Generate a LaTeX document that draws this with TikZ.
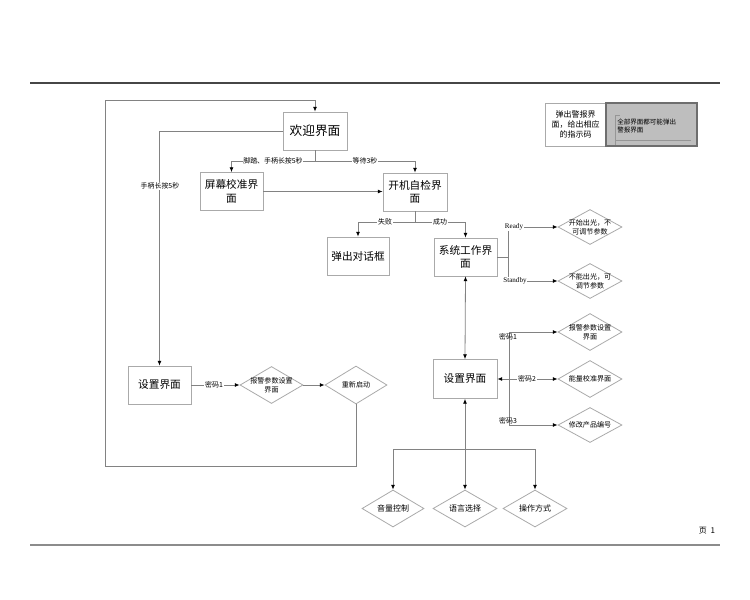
\documentclass[tikz,border=0pt]{standalone}
\usepackage{fontspec}
\setmainfont{Noto Sans CJK SC}
\newfontfamily\cjk{Noto Sans CJK SC}
\newfontfamily\lat{Liberation Serif}
\usetikzlibrary{arrows.meta,shapes.geometric}
\definecolor{boxc}{RGB}{170,170,170}
\definecolor{linec}{RGB}{130,130,130}
\begin{document}
\begin{tikzpicture}[x=0.75pt,y=-0.75pt,
  boxn/.style={draw=boxc, line width=0.6pt, fill=white, align=center, inner sep=0pt,
    font=\cjk\fontsize{8}{10}\selectfont, minimum width=63*0.75pt, minimum height=38*0.75pt},
  dia/.style={diamond, draw=boxc, line width=0.6pt, fill=white, inner sep=0pt,
    minimum width=64*0.75pt, minimum height=35*0.75pt},
  diat/.style={align=center, inner sep=0pt, font=\cjk\fontsize{5.3}{6.8}\selectfont},
  lbl/.style={fill=white, inner sep=0.6pt, font=\cjk\fontsize{5.2}{6}\selectfont},
  conn/.style={draw=linec, line width=0.6pt},
  tip/.tip={Latex[length=3.6pt,width=3pt,color=black]},
  arr/.style={conn, -tip},
  arrboth/.style={conn, tip-tip}]
\useasboundingbox (0,0) rectangle (750,600);
% page lines
\coordinate (pl1) at (30,83); \coordinate (pr1) at (720,83);
\coordinate (pl2) at (30,545); \coordinate (pr2) at (720,545);
\draw[line width=1.6pt, draw={rgb,255:red,70;green,70;blue,70}] (pl1) -- (pr1);
\draw[line width=1.6pt, draw={rgb,255:red,140;green,140;blue,140}] (pl2) -- (pr2);
\node[font=\cjk\fontsize{6}{7}\selectfont, inner sep=0pt] (page) at (707,531) {页\ \ 1};

% boxes
\node[boxn, font=\cjk\fontsize{9.5}{11}\selectfont, minimum width=64*0.75pt] (hy) at (315,131) {欢迎界面};
\node[boxn] (pm) at (231.5,191.5) {屏幕校准界\\面};
\node[boxn, minimum width=64*0.75pt] (kj) at (415,192) {开机自检界\\面};
\node[boxn, minimum width=62*0.75pt] (tc) at (358,256) {弹出对话框};
\node[boxn] (xt) at (465.5,257) {系统工作界\\面};
\node[boxn] (szL) at (159.5,385) {设置界面};
\node[boxn, minimum width=64*0.75pt, minimum height=39*0.75pt] (szR) at (465,379) {设置界面};

% diamonds
\node[dia] (dR1) at (590,227) {};
\node[diat] (dR1t) at (dR1) {开始出光，不\\可调节参数};
\node[dia] (dR2) at (590,281) {};
\node[diat] (dR2t) at (dR2) {不能出光，可\\调节参数};
\node[dia, minimum height=37*0.75pt] (dS1) at (590,332) {};
\node[diat] (dS1t) at (dS1) {报警参数设置\\界面};
\node[dia, minimum height=37*0.75pt] (dS2) at (590,379) {};
\node[diat] (dS2t) at (dS2) {能量校准界面};
\node[dia] (dS3) at (590,425) {};
\node[diat] (dS3t) at (dS3) {修改产品编号};
\node[dia, minimum width=63*0.75pt, minimum height=37*0.75pt] (dL1) at (271.5,385) {};
\node[diat] (dL1t) at (dL1) {报警参数设置\\界面};
\node[dia, minimum width=62*0.75pt, minimum height=38*0.75pt] (dL2) at (356,385) {};
\node[diat] (dL2t) at (dL2) {重新启动};
\node[dia, minimum width=62*0.75pt, minimum height=37*0.75pt] (dB1) at (393,508.5) {};
\node[diat, font=\cjk\fontsize{6}{7}\selectfont] (dB1t) at (dB1) {音量控制};
\node[dia, minimum height=37*0.75pt] (dB2) at (465,508.5) {};
\node[diat, font=\cjk\fontsize{6}{7}\selectfont] (dB2t) at (dB2) {语言选择};
\node[dia, minimum height=37*0.75pt] (dB3) at (535,508.5) {};
\node[diat, font=\cjk\fontsize{6}{7}\selectfont] (dB3t) at (dB3) {操作方式};

% legend
\node[draw=boxc, line width=0.6pt, fill=white, minimum width=61*0.75pt, minimum height=43*0.75pt,
  inner sep=0pt, align=center, font=\cjk\fontsize{6}{7.6}\selectfont] (lg1) at (575.5,124.5)
  {弹出警报界\\面，给出相应\\的指示码};
\node[draw={rgb,255:red,110;green,110;blue,110}, line width=0.8pt, fill={rgb,255:red,190;green,190;blue,190},
  minimum width=91*0.75pt, minimum height=43*0.75pt, inner sep=0pt] (lg2) at (651.5,124.5) {};
\coordinate (lga) at (620,115); \coordinate (lgb) at (615,115);
\coordinate (lgc) at (615,145); \coordinate (lgd) at (615,140); \coordinate (lge) at (691,140);
\draw[draw={rgb,255:red,150;green,150;blue,150}, line width=0.5pt] (lga) -- (lgb) -- (lgc);
\draw[draw={rgb,255:red,150;green,150;blue,150}, line width=0.5pt] (lgd) -- (lge);
\node[anchor=west, align=left, inner sep=0pt, font=\cjk\fontsize{4.9}{6.2}\selectfont] (lg2t) at (617,126)
  {全部界面都可能弹出\\警报界面};

% connectors
\draw[arr] (hy.west) -| (szL.north);
\node[lbl] (l1) at (160,186) {手柄长按5秒};

\coordinate (b1) at (315,161);
\draw[conn] (hy.south) -- (b1);
\draw[arr] (b1) -| (pm.north);
\draw[arr] (b1) -| (kj.north);
\node[lbl] (l2) at (273,161) {脚踏、手柄长按5秒};
\node[lbl] (l3) at (365,161) {等待3秒};

\draw[arr] (pm.east) -- (pm.east -| kj.west);

\coordinate (b2) at (415,222);
\draw[conn] (kj.south) -- (b2);
\draw[arr] (b2) -| (tc.north);
\draw[arr] (b2) -| (xt.north);
\node[lbl] (l4) at (385,222) {失败};
\node[lbl] (l5) at (440,222) {成功};

\coordinate (b3) at (508,257);
\coordinate (r1) at (508,227);
\coordinate (r2) at (508,281);
\draw[conn] (xt.east) -- (b3);
\draw[conn] (r1) -- (r2);
\draw[arr] (r1) -- (dR1.west);
\draw[arr] (r2) -- (dR2.west);
\node[lbl, font=\lat\fontsize{5.3}{6}\selectfont] (l6) at (514,227) {Ready};
\node[lbl, font=\lat\fontsize{5.3}{6}\selectfont] (l7) at (515,281) {Standby};

\draw[arrboth] (xt.south) -- (szR.north);

\coordinate (m1) at (509,332);
\coordinate (m3) at (509,425);
\draw[conn] (m1) -- (m3);
\draw[arr] (m1) -- (dS1.west);
\draw[arr] (m3) -- (dS3.west);
\draw[arrboth] (szR.east) -- (dS2.west);
\node[lbl, fill=none] (l8) at (508,336.5) {密码1};
\node[lbl] (l9) at (527,379) {密码2};
\node[lbl, fill=none] (l10) at (508,420.5) {密码3};

\coordinate (bb) at (465,449);
\draw[arrboth] (szR.south) -- (dB2.north);
\draw[arr] (bb) -| (dB1.north);
\draw[arr] (bb) -| (dB3.north);

\draw[arr] (szL.east) -- (dL1.west);
\node[lbl] (l11) at (214,385) {密码1};
\draw[arr] (dL1.east) -- (dL2.west);

\coordinate (c1) at (356,466);
\coordinate (c2) at (105,466);
\coordinate (c3) at (105,100);
\draw[arr] (dL2.south) -- (c1) -- (c2) -- (c3) -| (hy.north);
\end{tikzpicture}
\end{document}
